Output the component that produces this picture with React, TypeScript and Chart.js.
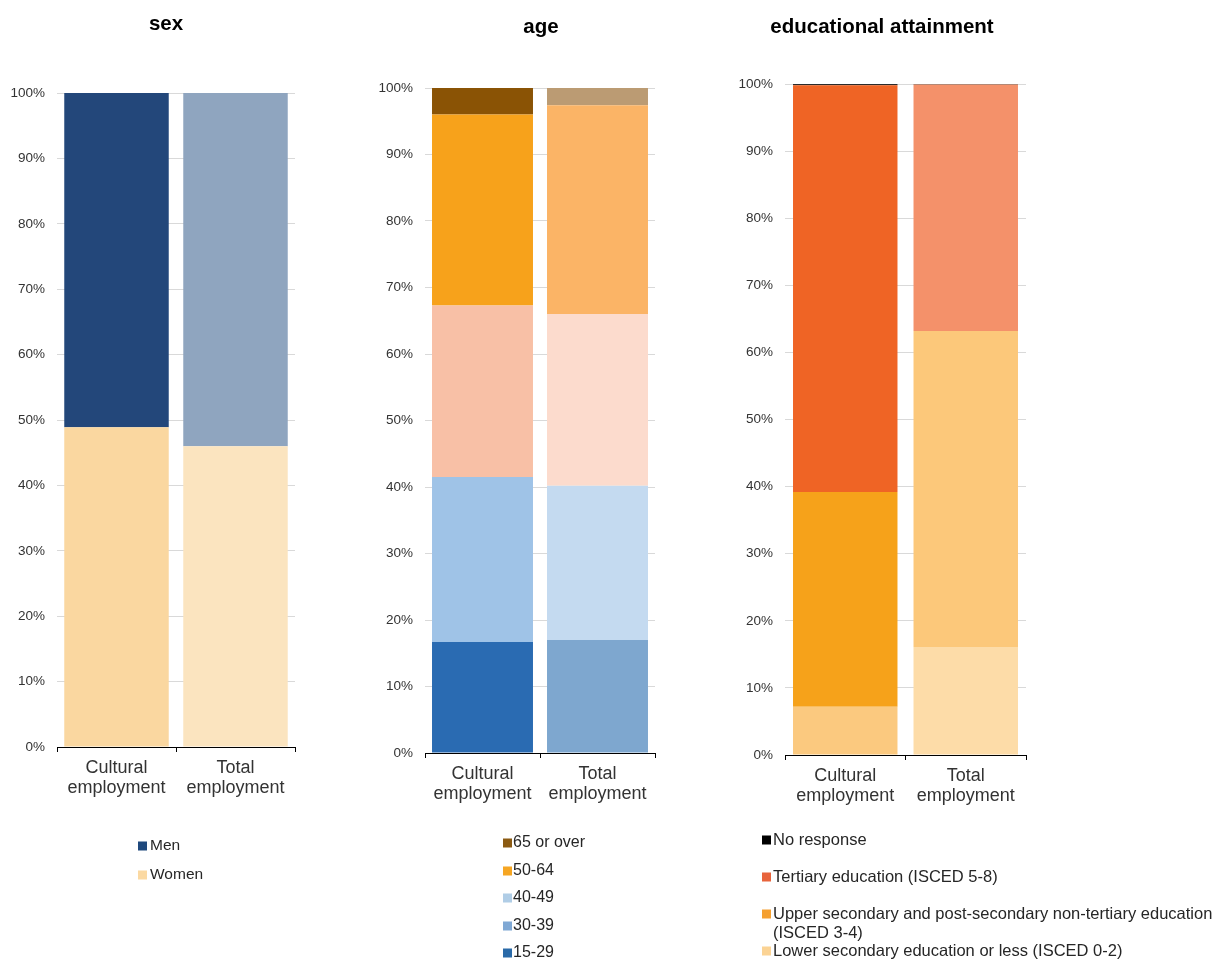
import React, { useEffect, useRef } from "react";
import { Chart, registerables } from "chart.js";

Chart.register(...registerables);

const FONT = "'Liberation Sans', Arial, Helvetica, sans-serif";

// ---------- DATA ----------
const categories = [["Cultural", "employment"], ["Total", "employment"]];

// sex (%)
const sexWomen = [48.9, 46.0];
const sexMen = [51.1, 54.0];

// age (%)
const age15to29 = [16.7, 17.0];
const age30to39 = [24.8, 23.2];
const age40to49 = [25.8, 25.8];
const age50to64 = [28.7, 31.4];
const age65plus = [4.0, 2.6];

// educational attainment (%)
const eduLower = [7.2, 16.1];
const eduUpper = [32.0, 47.1];
const eduTertiary = [60.6, 36.7];
const eduNoResponse = [0.2, 0.1];

// ---------- PANELS ----------
type Series = { label: string; data: number[]; colors: string[] };
type LegendItem = { color: string; lines: string[]; y: number };
type PanelCfg = {
  title: string;
  titleX: number;
  titleY: number;
  left: number;
  width: number;
  area: { left: number; right: number; top: number; bottom: number };
  catPct: number;
  series: Series[];
  legendBoxX: number;
  legendTextX: number;
  legendFont: number;
  legend: LegendItem[];
};

const H = 963;
const XH = 60;

const panels: PanelCfg[] = [
  {
    title: "sex",
    titleX: 166,
    titleY: 24,
    left: 0,
    width: 360,
    area: { left: 57, right: 295, top: 93, bottom: 747 },
    catPct: 0.878,
    series: [
      { label: "Women", data: sexWomen, colors: ["#fad7a0", "#fbe4bf"] },
      { label: "Men", data: sexMen, colors: ["#23477a", "#8fa5bf"] },
    ],
    legendBoxX: 138,
    legendTextX: 150,
    legendFont: 15.5,
    legend: [
      { color: "#1f497d", lines: ["Men"], y: 846 },
      { color: "#fbd9a2", lines: ["Women"], y: 875 },
    ],
  },
  {
    title: "age",
    titleX: 541 - 360,
    titleY: 27,
    left: 360,
    width: 360,
    area: { left: 65, right: 295, top: 88, bottom: 753 },
    catPct: 0.878,
    series: [
      { label: "15-29", data: age15to29, colors: ["#2a6bb2", "#7ea7cf"] },
      { label: "30-39", data: age30to39, colors: ["#9fc3e7", "#c4daf0"] },
      { label: "40-49", data: age40to49, colors: ["#f8c0a6", "#fcdbcd"] },
      { label: "50-64", data: age50to64, colors: ["#f7a21b", "#fbb466"] },
      { label: "65 or over", data: age65plus, colors: ["#8a5305", "#bb9b73"] },
    ],
    legendBoxX: 143,
    legendTextX: 153,
    legendFont: 16,
    legend: [
      { color: "#8b5a12", lines: ["65 or over"], y: 843 },
      { color: "#f6a623", lines: ["50-64"], y: 871 },
      { color: "#b0cde6", lines: ["40-49"], y: 898 },
      { color: "#7fa8d4", lines: ["30-39"], y: 926 },
      { color: "#2a6aa8", lines: ["15-29"], y: 953 },
    ],
  },
  {
    title: "educational attainment",
    titleX: 882 - 720,
    titleY: 27,
    left: 720,
    width: 509,
    area: { left: 65, right: 306, top: 84, bottom: 755 },
    catPct: 0.867,
    series: [
      { label: "Lower secondary education or less (ISCED 0-2)", data: eduLower, colors: ["#fbc97f", "#fddca8"] },
      { label: "Upper secondary and post-secondary non-tertiary education (ISCED 3-4)", data: eduUpper, colors: ["#f6a21a", "#fcc87a"] },
      { label: "Tertiary education (ISCED 5-8)", data: eduTertiary, colors: ["#ef6425", "#f4916a"] },
      { label: "No response", data: eduNoResponse, colors: ["#2b2b2b", "#8a6a5a"] },
    ],
    legendBoxX: 42,
    legendTextX: 53,
    legendFont: 16.5,
    legend: [
      { color: "#000000", lines: ["No response"], y: 840 },
      { color: "#e8643c", lines: ["Tertiary education (ISCED 5-8)"], y: 877 },
      { color: "#f5a030", lines: ["Upper secondary and post-secondary non-tertiary education", "(ISCED 3-4)"], y: 914 },
      { color: "#fbd394", lines: ["Lower secondary education or less (ISCED 0-2)"], y: 951 },
    ],
  },
];

function PanelChart({ panel }: { panel: PanelCfg }) {
  const ref = useRef<HTMLCanvasElement>(null);

  useEffect(() => {
    const canvas = ref.current;
    if (!canvas) return;
    const { area } = panel;

    const decor = {
      id: "decor",
      afterDraw(chart: any) {
        const ctx = chart.ctx as CanvasRenderingContext2D;
        ctx.save();
        // title
        ctx.fillStyle = "#000";
        ctx.font = `bold 20.5px ${FONT}`;
        ctx.textAlign = "center";
        ctx.textBaseline = "middle";
        ctx.fillText(panel.title, panel.titleX, panel.titleY);
        // legend
        ctx.font = `${panel.legendFont}px ${FONT}`;
        ctx.textAlign = "left";
        for (const item of panel.legend) {
          ctx.fillStyle = item.color;
          ctx.fillRect(panel.legendBoxX, item.y - 4.5, 9, 9);
          ctx.fillStyle = "#262626";
          item.lines.forEach((line, i) => {
            ctx.fillText(line, panel.legendTextX, item.y + i * 19);
          });
        }
        ctx.restore();
      },
    };

    const chart = new Chart(canvas, {
      type: "bar",
      data: {
        labels: categories as any,
        datasets: panel.series.map((s) => ({
          label: s.label,
          data: s.data,
          backgroundColor: s.colors,
          borderWidth: 0,
          categoryPercentage: panel.catPct,
          barPercentage: 1,
        })),
      },
      options: {
        responsive: false,
        animation: false,
        devicePixelRatio: 1,
        layout: {
          padding: {
            left: 0,
            right: panel.width - area.right,
            top: area.top,
            bottom: H - area.bottom - XH,
          },
        },
        plugins: {
          legend: { display: false },
          title: { display: false },
          tooltip: { enabled: false },
        },
        scales: {
          x: {
            stacked: true,
            grid: {
              drawOnChartArea: false,
              drawTicks: true,
              tickLength: 5,
              color: "#000",
              offset: true,
            },
            border: { display: true, color: "#000", width: 1 },
            ticks: {
              font: { family: FONT, size: 18, lineHeight: "20px" },
              color: "#333",
              padding: 6,
              maxRotation: 0,
              autoSkip: false,
            },
            afterFit: (s: any) => {
              s.height = XH;
            },
          },
          y: {
            stacked: true,
            min: 0,
            max: 100,
            ticks: {
              stepSize: 10,
              callback: (v: any) => `${v}%`,
              font: { family: FONT, size: 13.5 },
              color: "#333",
              padding: 12,
            },
            grid: { color: "#d9d9d9", drawTicks: false, lineWidth: 1 },
            border: { display: false },
            afterFit: (s: any) => {
              s.width = area.left;
            },
          },
        },
      } as any,
      plugins: [decor],
    });

    return () => chart.destroy();
  }, [panel]);

  return (
    <canvas
      ref={ref}
      width={panel.width}
      height={H}
      style={{ position: "absolute", left: panel.left, top: 0, width: panel.width, height: H }}
    />
  );
}

export default function App() {
  return (
    <div
      style={{
        position: "absolute",
        left: 0,
        top: 0,
        width: 1229,
        height: H,
        background: "#fff",
        overflow: "hidden",
      }}
    >
      {panels.map((p) => (
        <PanelChart key={p.title} panel={p} />
      ))}
    </div>
  );
}
